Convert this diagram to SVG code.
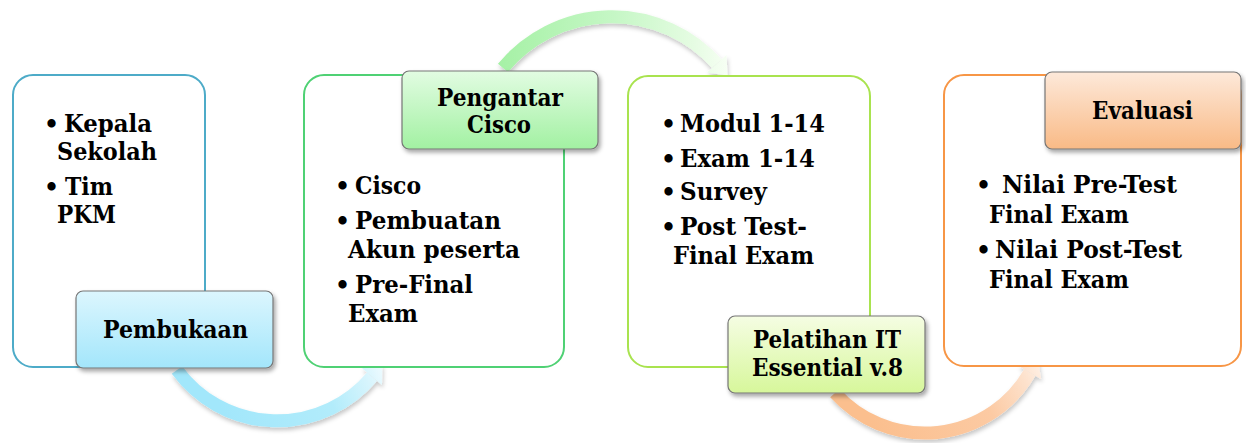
<svg xmlns="http://www.w3.org/2000/svg" width="1246" height="443" viewBox="0 0 1246 443">
<defs>
<style>
.t{font-family:"DejaVu Serif","Liberation Serif",serif;font-weight:bold;font-size:23.5px;fill:#000}
.lbl{text-anchor:middle}
.box{fill:#fff;stroke-width:2}
.tag{stroke:#767676;stroke-width:1.2}
</style>
<filter id="sh" x="-10%" y="-10%" width="130%" height="140%">
<feDropShadow dx="2" dy="3" stdDeviation="2" flood-color="#000" flood-opacity="0.35"/>
</filter>
<filter id="ash" x="-10%" y="-20%" width="120%" height="150%">
<feDropShadow dx="1" dy="3" stdDeviation="2" flood-color="#000" flood-opacity="0.22"/>
</filter>
<linearGradient id="gB" x1="0" y1="0" x2="0" y2="1"><stop offset="0" stop-color="#dcf6fe"/><stop offset="1" stop-color="#a3e6fb"/></linearGradient>
<linearGradient id="gG" x1="0" y1="0" x2="0" y2="1"><stop offset="0" stop-color="#e2fce2"/><stop offset="1" stop-color="#a2f1a2"/></linearGradient>
<linearGradient id="gL" x1="0" y1="0" x2="0" y2="1"><stop offset="0" stop-color="#f5fde3"/><stop offset="1" stop-color="#d7f79b"/></linearGradient>
<linearGradient id="gO" x1="0" y1="0" x2="0" y2="1"><stop offset="0" stop-color="#fde9da"/><stop offset="1" stop-color="#f9ba86"/></linearGradient>
<linearGradient id="aB" gradientUnits="userSpaceOnUse" x1="230" y1="430" x2="388" y2="360"><stop offset="0" stop-color="#a2e7fb"/><stop offset="0.6" stop-color="#b2ecfb"/><stop offset="0.85" stop-color="#d8f5fd"/><stop offset="1" stop-color="#f8fdff"/></linearGradient>
<linearGradient id="aG" gradientUnits="userSpaceOnUse" x1="500" y1="60" x2="728" y2="70"><stop offset="0" stop-color="#a6f1a6"/><stop offset="0.5" stop-color="#c6f7c6"/><stop offset="0.85" stop-color="#e6fce3"/><stop offset="1" stop-color="#f7fff4"/></linearGradient>
<linearGradient id="aO" gradientUnits="userSpaceOnUse" x1="880" y1="440" x2="1045" y2="356"><stop offset="0" stop-color="#fbbf8e"/><stop offset="0.6" stop-color="#fccaa3"/><stop offset="0.85" stop-color="#fde2cd"/><stop offset="1" stop-color="#fff6ef"/></linearGradient>
</defs>

<g id="connectors">
<g filter="url(#ash)">
<path d="M177,370 A124,124 0 0 0 372,376.7" fill="none" stroke="url(#aB)" stroke-width="13"/>
<polygon points="382,385.1 362,368.3 382.3,364.4" fill="url(#aB)"/>
</g>
<g filter="url(#ash)">
<path d="M503,68 A141,141 0 0 1 716.8,63.7" fill="none" stroke="url(#aG)" stroke-width="13"/>
<polygon points="726.5,55 707.1,72.4 727.5,75.6" fill="url(#aG)"/>
</g>
<g filter="url(#ash)">
<path d="M835,393 A121,121 0 0 0 1029.8,372.5" fill="none" stroke="url(#aO)" stroke-width="13"/>
<polygon points="1041.1,379 1018.5,366 1037.8,358.6" fill="url(#aO)"/>
</g>
</g>

<g id="node1">
<rect class="box" x="13" y="75" width="192" height="292" rx="20" stroke="#4dabc8"/>
<text class="t" x="44" y="132">•</text>
<text class="t" x="64" y="132" textLength="88" lengthAdjust="spacingAndGlyphs">Kepala</text>
<text class="t" x="57" y="160" textLength="100" lengthAdjust="spacingAndGlyphs">Sekolah</text>
<text class="t" x="44" y="195">•</text>
<text class="t" x="65" y="195" textLength="48" lengthAdjust="spacingAndGlyphs">Tim</text>
<text class="t" x="57" y="223" textLength="59" lengthAdjust="spacingAndGlyphs">PKM</text>
</g>
<g id="label1">
<rect class="tag" x="76" y="291" width="197" height="77" rx="7" fill="url(#gB)" filter="url(#sh)"/>
<text class="t lbl" x="175.5" y="338" textLength="145" lengthAdjust="spacingAndGlyphs">Pembukaan</text>
</g>

<g id="node2">
<rect class="box" x="304" y="75" width="260" height="292" rx="20" stroke="#4fd174"/>
<text class="t" x="335" y="194">•</text>
<text class="t" x="355" y="194" textLength="66" lengthAdjust="spacingAndGlyphs">Cisco</text>
<text class="t" x="335" y="229">•</text>
<text class="t" x="355" y="229" textLength="146" lengthAdjust="spacingAndGlyphs">Pembuatan</text>
<text class="t" x="348" y="258" textLength="172" lengthAdjust="spacingAndGlyphs">Akun peserta</text>
<text class="t" x="335" y="293">•</text>
<text class="t" x="355" y="293" textLength="118" lengthAdjust="spacingAndGlyphs">Pre-Final</text>
<text class="t" x="348" y="322" textLength="70" lengthAdjust="spacingAndGlyphs">Exam</text>
</g>
<g id="label2">
<rect class="tag" x="402" y="71" width="196" height="78" rx="7" fill="url(#gG)" filter="url(#sh)"/>
<text class="t lbl" x="500" y="106" textLength="126" lengthAdjust="spacingAndGlyphs">Pengantar</text>
<text class="t lbl" x="499" y="133" textLength="64" lengthAdjust="spacingAndGlyphs">Cisco</text>
</g>

<g id="node3">
<rect class="box" x="628" y="76" width="242" height="291" rx="20" stroke="#a9e34f"/>
<text class="t" x="661" y="132">•</text>
<text class="t" x="680" y="132" textLength="145" lengthAdjust="spacingAndGlyphs">Modul 1-14</text>
<text class="t" x="661" y="167">•</text>
<text class="t" x="680" y="167" textLength="135" lengthAdjust="spacingAndGlyphs">Exam 1-14</text>
<text class="t" x="661" y="200">•</text>
<text class="t" x="680" y="200" textLength="87" lengthAdjust="spacingAndGlyphs">Survey</text>
<text class="t" x="661" y="235">•</text>
<text class="t" x="680" y="235" textLength="127" lengthAdjust="spacingAndGlyphs">Post Test-</text>
<text class="t" x="673" y="264" textLength="141" lengthAdjust="spacingAndGlyphs">Final Exam</text>
</g>
<g id="label3">
<rect class="tag" x="728" y="316" width="197" height="77" rx="7" fill="url(#gL)" filter="url(#sh)"/>
<text class="t lbl" x="827" y="348" textLength="148" lengthAdjust="spacingAndGlyphs">Pelatihan IT</text>
<text class="t lbl" x="827.5" y="376" textLength="151" lengthAdjust="spacingAndGlyphs">Essential v.8</text>
</g>

<g id="node4">
<rect class="box" x="944" y="75" width="297" height="291" rx="20" stroke="#f79646"/>
<text class="t" x="976" y="193">•</text>
<text class="t" x="1002" y="193" textLength="175" lengthAdjust="spacingAndGlyphs">Nilai Pre-Test</text>
<text class="t" x="989" y="223" textLength="140" lengthAdjust="spacingAndGlyphs">Final Exam</text>
<text class="t" x="976" y="258">•</text>
<text class="t" x="995" y="258" textLength="187" lengthAdjust="spacingAndGlyphs">Nilai Post-Test</text>
<text class="t" x="989" y="288" textLength="140" lengthAdjust="spacingAndGlyphs">Final Exam</text>
</g>
<g id="label4">
<rect class="tag" x="1045" y="72" width="196" height="77" rx="7" fill="url(#gO)" filter="url(#sh)"/>
<text class="t lbl" x="1142.5" y="119" textLength="101" lengthAdjust="spacingAndGlyphs">Evaluasi</text>
</g>
</svg>
